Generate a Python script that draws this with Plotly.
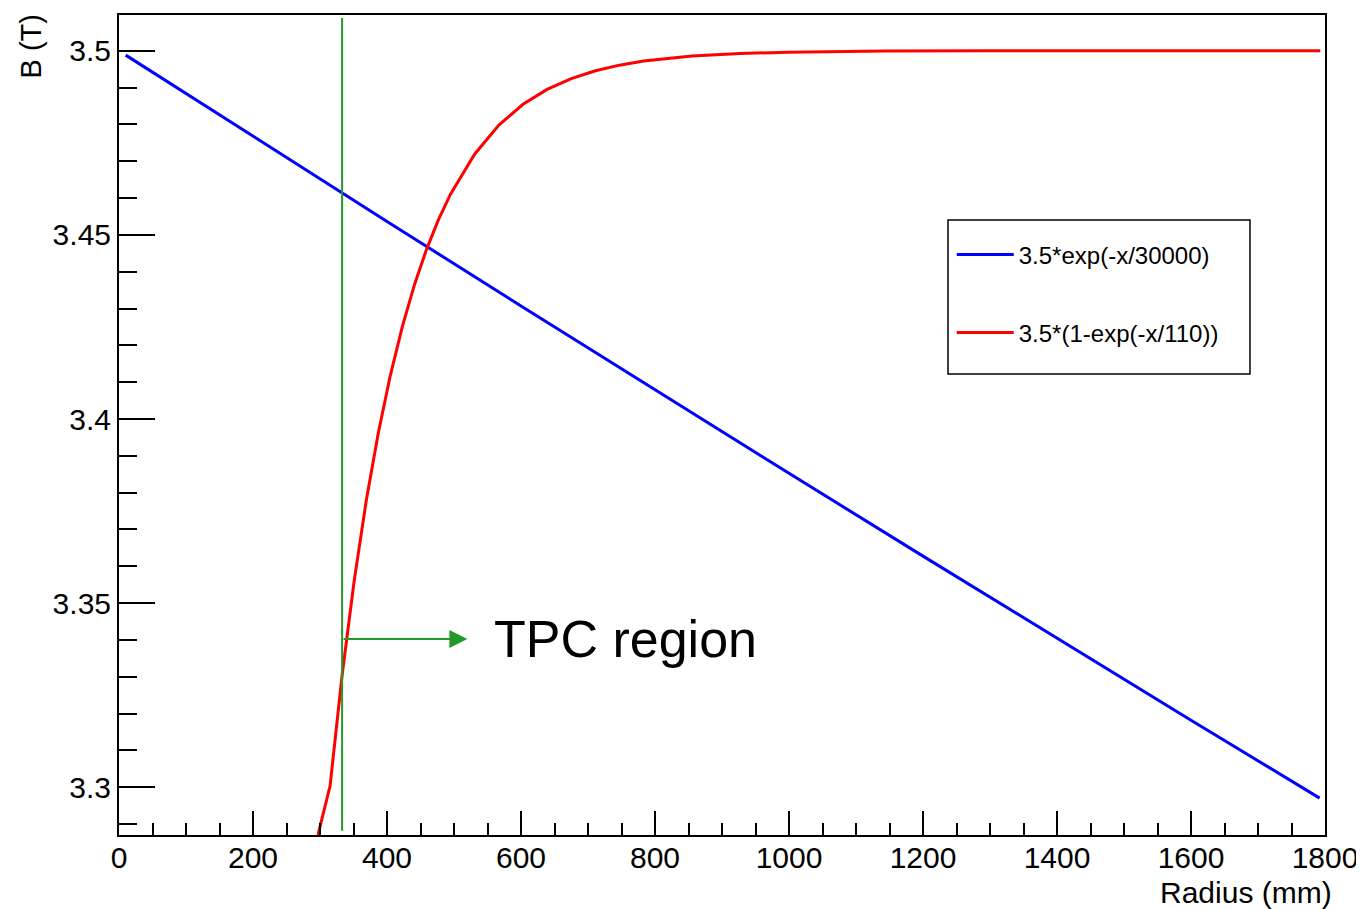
import plotly.graph_objects as go

# ---------------- data ----------------
blue_name = "3.5*exp(-x/30000)"
blue_x = [10, 200, 400, 600, 800, 1000, 1200, 1400, 1600, 1792]
blue_y = [3.4988, 3.47674, 3.45364, 3.43070, 3.40790, 3.38526, 3.36276,
          3.34042, 3.31822, 3.29706]

red_name = "3.5*(1-exp(-x/110))"
red_x = [297, 315, 333, 351, 369, 387, 405, 423, 441, 459, 477, 495, 531,
         567, 603, 639, 675, 711, 747, 783, 855, 927, 999, 1143, 1300, 1500, 1793]
red_y = [3.2871, 3.30033, 3.33043, 3.35604, 3.37778, 3.39619, 3.41187,
         3.42517, 3.43647, 3.44606, 3.45420, 3.46112, 3.47197, 3.47979,
         3.48544, 3.48950, 3.49243, 3.49454, 3.49607, 3.49717, 3.49853,
         3.49923, 3.49960, 3.49990, 3.49997, 3.50000, 3.50000]

tpc_radius = 333          # green vertical marker (mm)
tpc_line_y = [3.2882, 3.5089]
tpc_arrow_y = 3.3403
tpc_arrow_end = 520
tpc_label = "TPC region"
tpc_label_x = 557

x_range = [0, 1800]
y_range = [3.28705, 3.50969]
x_ticks = [0, 200, 400, 600, 800, 1000, 1200, 1400, 1600, 1800]
y_ticks = [3.3, 3.35, 3.4, 3.45, 3.5]
y_ticklabels = ["3.3", "3.35", "3.4", "3.45", "3.5"]

x_title = "Radius (mm)"
y_title = "B (T)"

FONT = "Liberation Sans, Arial, Helvetica, sans-serif"
GREEN = "#23992a"

fig = go.Figure()
fig.add_trace(go.Scatter(x=blue_x, y=blue_y, mode="lines", name=blue_name,
                         legendgroup="b",
                         line=dict(color="#0000ff", width=3)))
fig.add_trace(go.Scatter(x=red_x, y=red_y, mode="lines", name=red_name,
                         legendgroup="r",
                         line=dict(color="#ff0000", width=3)))

# green TPC boundary line
fig.add_shape(type="line", x0=tpc_radius, x1=tpc_radius,
              y0=tpc_line_y[0], y1=tpc_line_y[1], xref="x", yref="y",
              line=dict(color=GREEN, width=2))
# arrow
fig.add_annotation(x=tpc_arrow_end, y=tpc_arrow_y, ax=tpc_radius, ay=tpc_arrow_y,
                   xref="x", yref="y", axref="x", ayref="y", text="",
                   showarrow=True, arrowhead=2, arrowsize=1.8, arrowwidth=2,
                   arrowcolor=GREEN, standoff=0, startstandoff=0)
fig.add_annotation(x=tpc_label_x, y=tpc_arrow_y, xref="x", yref="y",
                   text=tpc_label, showarrow=False, xanchor="left",
                   yanchor="middle",
                   font=dict(family=FONT, size=52, color="black"))

# axis titles (ROOT style: right / top aligned)
fig.add_annotation(x=1.0075, y=-0.07, xref="paper", yref="paper",
                   text=x_title, showarrow=False, xanchor="right",
                   yanchor="middle", font=dict(family=FONT, size=30, color="black"))
fig.add_annotation(x=-0.073, y=1.003, xref="paper", yref="paper",
                   text=y_title, showarrow=False, textangle=-90,
                   xanchor="center", yanchor="top",
                   font=dict(family=FONT, size=29, color="black"))

# legend frame
fig.add_shape(type="rect", xref="paper", yref="paper",
              x0=0.6874, x1=0.9378, y0=0.5622, y1=0.75,
              line=dict(color="black", width=1.5), fillcolor="white", layer="below")

# page body has an 8px margin, so the figure is 8px smaller and margins shifted
fig.update_layout(
    width=1356, height=901,
    margin=dict(l=111, r=39, t=7, b=74, autoexpand=False),
    paper_bgcolor="white", plot_bgcolor="rgba(0,0,0,0)",
    font=dict(family=FONT, color="black"),
    showlegend=True,
    legend=dict(x=0.6905, y=0.735, xanchor="left", yanchor="top",
                bgcolor="rgba(0,0,0,0)", borderwidth=0,
                font=dict(family=FONT, size=24, color="black"),
                tracegroupgap=44, itemwidth=57),
)

fig.update_xaxes(range=x_range, tickmode="array", tickvals=x_ticks,
                 automargin=False, ticklabelstandoff=-5,
                 ticks="inside", ticklen=24, tickwidth=1.5, tickcolor="black",
                 minor=dict(ticks="inside", ticklen=12, tickwidth=1.5,
                            tickcolor="black", dtick=50, tick0=0),
                 showline=True, linecolor="black", linewidth=2, mirror=True,
                 showgrid=False, zeroline=False,
                 tickfont=dict(family=FONT, size=30, color="black"))
fig.update_yaxes(range=y_range, tickmode="array", tickvals=y_ticks,
                 ticktext=y_ticklabels, automargin=False,
                 ticks="inside", ticklen=36, tickwidth=1.5, tickcolor="black",
                 minor=dict(ticks="inside", ticklen=18, tickwidth=1.5,
                            tickcolor="black", dtick=0.01, tick0=3.3),
                 showline=True, linecolor="black", linewidth=2, mirror=True,
                 showgrid=False, zeroline=False,
                 tickfont=dict(family=FONT, size=30, color="black"))

fig.write_html("out.html")
